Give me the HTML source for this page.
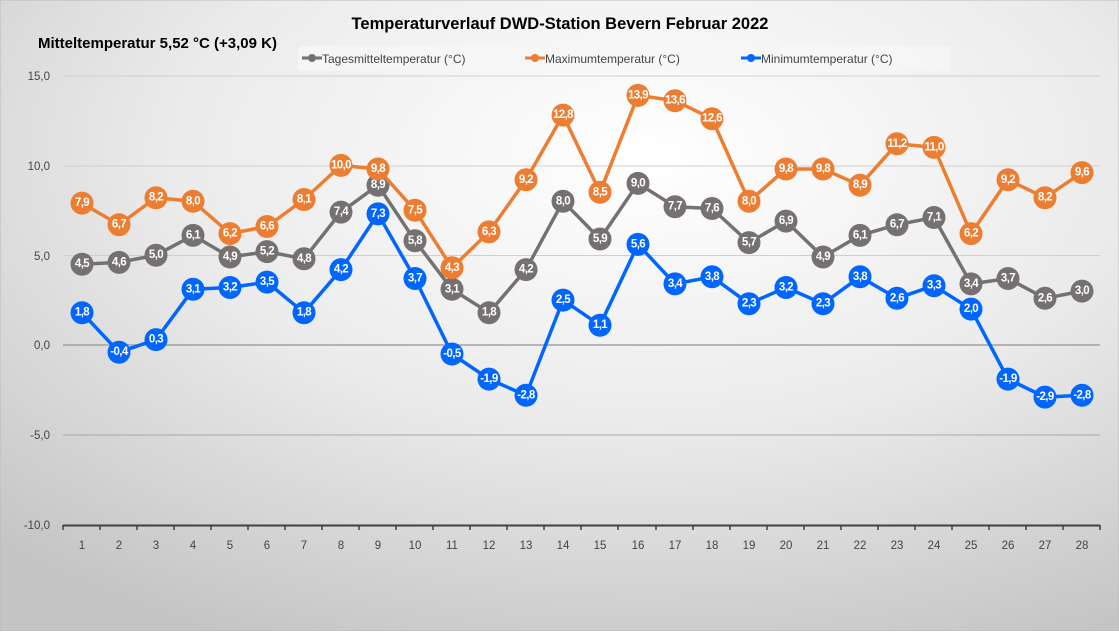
<!DOCTYPE html>
<html><head><meta charset="utf-8"><style>
html,body{margin:0;padding:0;}
body{width:1119px;height:631px;overflow:hidden;}
svg text{font-family:"Liberation Sans",sans-serif;}
.l{font-size:11.5px;fill:#fff;font-weight:bold;text-anchor:middle;dominant-baseline:central;letter-spacing:-0.6px}
.ax{font-size:11.5px;fill:#444;}
</style></head><body>
<svg width="1119" height="631" viewBox="0 0 1119 631" xmlns="http://www.w3.org/2000/svg">
<defs>
<radialGradient id="bg" cx="0.58" cy="0.25" r="0.85">
<stop offset="0" stop-color="#ffffff"/>
<stop offset="0.5" stop-color="#ebebeb"/>
<stop offset="1" stop-color="#c4c4c4"/>
</radialGradient>
</defs>
<rect x="0" y="0" width="1119" height="631" fill="url(#bg)" stroke="#bbb"/>
<text x="560" y="29" text-anchor="middle" font-size="16.5" font-weight="bold" fill="#000">Temperaturverlauf  DWD-Station  Bevern Februar 2022</text>
<text x="38" y="48" font-size="15" font-weight="bold" fill="#000">Mitteltemperatur 5,52 °C (+3,09 K)</text>
<rect x="298" y="46" width="652" height="25" fill="#f6f6f6" opacity="0.8"/>
<g font-size="12" fill="#444">
<line x1="302" y1="58" x2="322" y2="58" stroke="#767171" stroke-width="3"/><circle cx="312" cy="58" r="4" fill="#767171"/><text x="322" y="63">Tagesmitteltemperatur (°C)</text>
<line x1="525" y1="58" x2="545" y2="58" stroke="#ED7D31" stroke-width="3"/><circle cx="535" cy="58" r="4" fill="#ED7D31"/><text x="545" y="63">Maximumtemperatur (°C)</text>
<line x1="741" y1="58" x2="761" y2="58" stroke="#0066FF" stroke-width="3"/><circle cx="751" cy="58" r="4" fill="#0066FF"/><text x="761" y="63">Minimumtemperatur (°C)</text>
</g>
<g stroke="#cfcfcf" stroke-width="1">
<line x1="63" y1="76" x2="1100" y2="76"/><line x1="63" y1="166" x2="1100" y2="166"/><line x1="63" y1="255.5" x2="1100" y2="255.5"/><line x1="63" y1="435" x2="1100" y2="435" stroke="#a8a8a8"/>
</g>
<line x1="63" y1="345" x2="1100" y2="345" stroke="#a0a0a0" stroke-width="1.5"/>
<g class="ax" text-anchor="end">
<text x="50" y="80">15,0</text><text x="50" y="170">10,0</text><text x="50" y="260">5,0</text><text x="50" y="349">0,0</text><text x="50" y="439">-5,0</text><text x="50" y="529">-10,0</text>
</g>
<line x1="63" y1="525.5" x2="1100" y2="525.5" stroke="#404040" stroke-width="2"/>
<g stroke="#404040" stroke-width="1.5">
<line x1="63" y1="525" x2="63" y2="530"/><line x1="100" y1="525" x2="100" y2="530"/><line x1="137" y1="525" x2="137" y2="530"/><line x1="174" y1="525" x2="174" y2="530"/><line x1="211" y1="525" x2="211" y2="530"/><line x1="248" y1="525" x2="248" y2="530"/><line x1="285" y1="525" x2="285" y2="530"/><line x1="322" y1="525" x2="322" y2="530"/><line x1="359" y1="525" x2="359" y2="530"/><line x1="396" y1="525" x2="396" y2="530"/><line x1="433" y1="525" x2="433" y2="530"/><line x1="470" y1="525" x2="470" y2="530"/><line x1="507" y1="525" x2="507" y2="530"/><line x1="544" y1="525" x2="544" y2="530"/><line x1="581" y1="525" x2="581" y2="530"/><line x1="618" y1="525" x2="618" y2="530"/><line x1="656" y1="525" x2="656" y2="530"/><line x1="693" y1="525" x2="693" y2="530"/><line x1="730" y1="525" x2="730" y2="530"/><line x1="767" y1="525" x2="767" y2="530"/><line x1="804" y1="525" x2="804" y2="530"/><line x1="841" y1="525" x2="841" y2="530"/><line x1="878" y1="525" x2="878" y2="530"/><line x1="915" y1="525" x2="915" y2="530"/><line x1="952" y1="525" x2="952" y2="530"/><line x1="989" y1="525" x2="989" y2="530"/><line x1="1026" y1="525" x2="1026" y2="530"/><line x1="1063" y1="525" x2="1063" y2="530"/><line x1="1100" y1="525" x2="1100" y2="530"/>
</g>
<g class="ax" text-anchor="middle">
<text x="82" y="549">1</text><text x="119" y="549">2</text><text x="156" y="549">3</text><text x="193" y="549">4</text><text x="230" y="549">5</text><text x="267" y="549">6</text><text x="304" y="549">7</text><text x="341" y="549">8</text><text x="378" y="549">9</text><text x="415" y="549">10</text><text x="452" y="549">11</text><text x="489" y="549">12</text><text x="526" y="549">13</text><text x="563" y="549">14</text><text x="600" y="549">15</text><text x="638" y="549">16</text><text x="675" y="549">17</text><text x="712" y="549">18</text><text x="749" y="549">19</text><text x="786" y="549">20</text><text x="823" y="549">21</text><text x="860" y="549">22</text><text x="897" y="549">23</text><text x="934" y="549">24</text><text x="971" y="549">25</text><text x="1008" y="549">26</text><text x="1045" y="549">27</text><text x="1082" y="549">28</text>
</g>

<polyline fill="none" stroke="#767171" stroke-width="3.5" stroke-linejoin="round" points="82,264.2 119,262.4 156,255.2 193,235.4 230,257 267,251.6 304,258.8 341,212.1 378,185.2 415,240.8 452,289.3 489,312.7 526,269.6 563,201.3 600,239 638,183.4 675,206.7 712,208.5 749,242.6 786,221.1 823,257 860,235.4 897,224.7 934,217.5 971,283.9 1008,278.5 1045,298.3 1082,291.1"/>
<g fill="#767171">
<circle cx="82" cy="264.2" r="11.5"/><circle cx="119" cy="262.4" r="11.5"/><circle cx="156" cy="255.2" r="11.5"/><circle cx="193" cy="235.4" r="11.5"/><circle cx="230" cy="257" r="11.5"/><circle cx="267" cy="251.6" r="11.5"/><circle cx="304" cy="258.8" r="11.5"/><circle cx="341" cy="212.1" r="11.5"/><circle cx="378" cy="185.2" r="11.5"/><circle cx="415" cy="240.8" r="11.5"/><circle cx="452" cy="289.3" r="11.5"/><circle cx="489" cy="312.7" r="11.5"/><circle cx="526" cy="269.6" r="11.5"/><circle cx="563" cy="201.3" r="11.5"/><circle cx="600" cy="239" r="11.5"/><circle cx="638" cy="183.4" r="11.5"/><circle cx="675" cy="206.7" r="11.5"/><circle cx="712" cy="208.5" r="11.5"/><circle cx="749" cy="242.6" r="11.5"/><circle cx="786" cy="221.1" r="11.5"/><circle cx="823" cy="257" r="11.5"/><circle cx="860" cy="235.4" r="11.5"/><circle cx="897" cy="224.7" r="11.5"/><circle cx="934" cy="217.5" r="11.5"/><circle cx="971" cy="283.9" r="11.5"/><circle cx="1008" cy="278.5" r="11.5"/><circle cx="1045" cy="298.3" r="11.5"/><circle cx="1082" cy="291.1" r="11.5"/>
</g>
<g class="l">
<text x="82" y="264.2">4,5</text><text x="119" y="262.4">4,6</text><text x="156" y="255.2">5,0</text><text x="193" y="235.4">6,1</text><text x="230" y="257">4,9</text><text x="267" y="251.6">5,2</text><text x="304" y="258.8">4,8</text><text x="341" y="212.1">7,4</text><text x="378" y="185.2">8,9</text><text x="415" y="240.8">5,8</text><text x="452" y="289.3">3,1</text><text x="489" y="312.7">1,8</text><text x="526" y="269.6">4,2</text><text x="563" y="201.3">8,0</text><text x="600" y="239">5,9</text><text x="638" y="183.4">9,0</text><text x="675" y="206.7">7,7</text><text x="712" y="208.5">7,6</text><text x="749" y="242.6">5,7</text><text x="786" y="221.1">6,9</text><text x="823" y="257">4,9</text><text x="860" y="235.4">6,1</text><text x="897" y="224.7">6,7</text><text x="934" y="217.5">7,1</text><text x="971" y="283.9">3,4</text><text x="1008" y="278.5">3,7</text><text x="1045" y="298.3">2,6</text><text x="1082" y="291.1">3,0</text>
</g>

<polyline fill="none" stroke="#0066FF" stroke-width="3.5" stroke-linejoin="round" points="82,312.7 119,352.2 156,339.6 193,289.3 230,287.5 267,282.1 304,312.7 341,269.6 378,213.9 415,278.5 452,354 489,379.1 526,395.3 563,300.1 600,325.2 638,244.4 675,283.9 712,276.8 749,303.7 786,287.5 823,303.7 860,276.8 897,298.3 934,285.7 971,309.1 1008,379.1 1045,397.1 1082,395.3"/>
<g fill="#0066FF">
<circle cx="82" cy="312.7" r="11.5"/><circle cx="119" cy="352.2" r="11.5"/><circle cx="156" cy="339.6" r="11.5"/><circle cx="193" cy="289.3" r="11.5"/><circle cx="230" cy="287.5" r="11.5"/><circle cx="267" cy="282.1" r="11.5"/><circle cx="304" cy="312.7" r="11.5"/><circle cx="341" cy="269.6" r="11.5"/><circle cx="378" cy="213.9" r="11.5"/><circle cx="415" cy="278.5" r="11.5"/><circle cx="452" cy="354" r="11.5"/><circle cx="489" cy="379.1" r="11.5"/><circle cx="526" cy="395.3" r="11.5"/><circle cx="563" cy="300.1" r="11.5"/><circle cx="600" cy="325.2" r="11.5"/><circle cx="638" cy="244.4" r="11.5"/><circle cx="675" cy="283.9" r="11.5"/><circle cx="712" cy="276.8" r="11.5"/><circle cx="749" cy="303.7" r="11.5"/><circle cx="786" cy="287.5" r="11.5"/><circle cx="823" cy="303.7" r="11.5"/><circle cx="860" cy="276.8" r="11.5"/><circle cx="897" cy="298.3" r="11.5"/><circle cx="934" cy="285.7" r="11.5"/><circle cx="971" cy="309.1" r="11.5"/><circle cx="1008" cy="379.1" r="11.5"/><circle cx="1045" cy="397.1" r="11.5"/><circle cx="1082" cy="395.3" r="11.5"/>
</g>
<g class="l">
<text x="82" y="312.7">1,8</text><text x="119" y="352.2">-0,4</text><text x="156" y="339.6">0,3</text><text x="193" y="289.3">3,1</text><text x="230" y="287.5">3,2</text><text x="267" y="282.1">3,5</text><text x="304" y="312.7">1,8</text><text x="341" y="269.6">4,2</text><text x="378" y="213.9">7,3</text><text x="415" y="278.5">3,7</text><text x="452" y="354">-0,5</text><text x="489" y="379.1">-1,9</text><text x="526" y="395.3">-2,8</text><text x="563" y="300.1">2,5</text><text x="600" y="325.2">1,1</text><text x="638" y="244.4">5,6</text><text x="675" y="283.9">3,4</text><text x="712" y="276.8">3,8</text><text x="749" y="303.7">2,3</text><text x="786" y="287.5">3,2</text><text x="823" y="303.7">2,3</text><text x="860" y="276.8">3,8</text><text x="897" y="298.3">2,6</text><text x="934" y="285.7">3,3</text><text x="971" y="309.1">2,0</text><text x="1008" y="379.1">-1,9</text><text x="1045" y="397.1">-2,9</text><text x="1082" y="395.3">-2,8</text>
</g>

<polyline fill="none" stroke="#ED7D31" stroke-width="3.5" stroke-linejoin="round" points="82,203.1 119,224.7 156,197.7 193,201.3 230,233.6 267,226.5 304,199.5 341,165.4 378,169 415,210.3 452,267.8 489,231.9 526,179.8 563,115.1 600,192.3 638,95.4 675,100.7 712,118.7 749,201.3 786,169 823,169 860,185.2 897,143.8 934,147.4 971,233.6 1008,179.8 1045,197.7 1082,172.6"/>
<g fill="#ED7D31">
<circle cx="82" cy="203.1" r="11.5"/><circle cx="119" cy="224.7" r="11.5"/><circle cx="156" cy="197.7" r="11.5"/><circle cx="193" cy="201.3" r="11.5"/><circle cx="230" cy="233.6" r="11.5"/><circle cx="267" cy="226.5" r="11.5"/><circle cx="304" cy="199.5" r="11.5"/><circle cx="341" cy="165.4" r="11.5"/><circle cx="378" cy="169" r="11.5"/><circle cx="415" cy="210.3" r="11.5"/><circle cx="452" cy="267.8" r="11.5"/><circle cx="489" cy="231.9" r="11.5"/><circle cx="526" cy="179.8" r="11.5"/><circle cx="563" cy="115.1" r="11.5"/><circle cx="600" cy="192.3" r="11.5"/><circle cx="638" cy="95.4" r="11.5"/><circle cx="675" cy="100.7" r="11.5"/><circle cx="712" cy="118.7" r="11.5"/><circle cx="749" cy="201.3" r="11.5"/><circle cx="786" cy="169" r="11.5"/><circle cx="823" cy="169" r="11.5"/><circle cx="860" cy="185.2" r="11.5"/><circle cx="897" cy="143.8" r="11.5"/><circle cx="934" cy="147.4" r="11.5"/><circle cx="971" cy="233.6" r="11.5"/><circle cx="1008" cy="179.8" r="11.5"/><circle cx="1045" cy="197.7" r="11.5"/><circle cx="1082" cy="172.6" r="11.5"/>
</g>
<g class="l">
<text x="82" y="203.1">7,9</text><text x="119" y="224.7">6,7</text><text x="156" y="197.7">8,2</text><text x="193" y="201.3">8,0</text><text x="230" y="233.6">6,2</text><text x="267" y="226.5">6,6</text><text x="304" y="199.5">8,1</text><text x="341" y="165.4">10,0</text><text x="378" y="169">9,8</text><text x="415" y="210.3">7,5</text><text x="452" y="267.8">4,3</text><text x="489" y="231.9">6,3</text><text x="526" y="179.8">9,2</text><text x="563" y="115.1">12,8</text><text x="600" y="192.3">8,5</text><text x="638" y="95.4">13,9</text><text x="675" y="100.7">13,6</text><text x="712" y="118.7">12,6</text><text x="749" y="201.3">8,0</text><text x="786" y="169">9,8</text><text x="823" y="169">9,8</text><text x="860" y="185.2">8,9</text><text x="897" y="143.8">11,2</text><text x="934" y="147.4">11,0</text><text x="971" y="233.6">6,2</text><text x="1008" y="179.8">9,2</text><text x="1045" y="197.7">8,2</text><text x="1082" y="172.6">9,6</text>
</g>
</svg>
</body></html>
